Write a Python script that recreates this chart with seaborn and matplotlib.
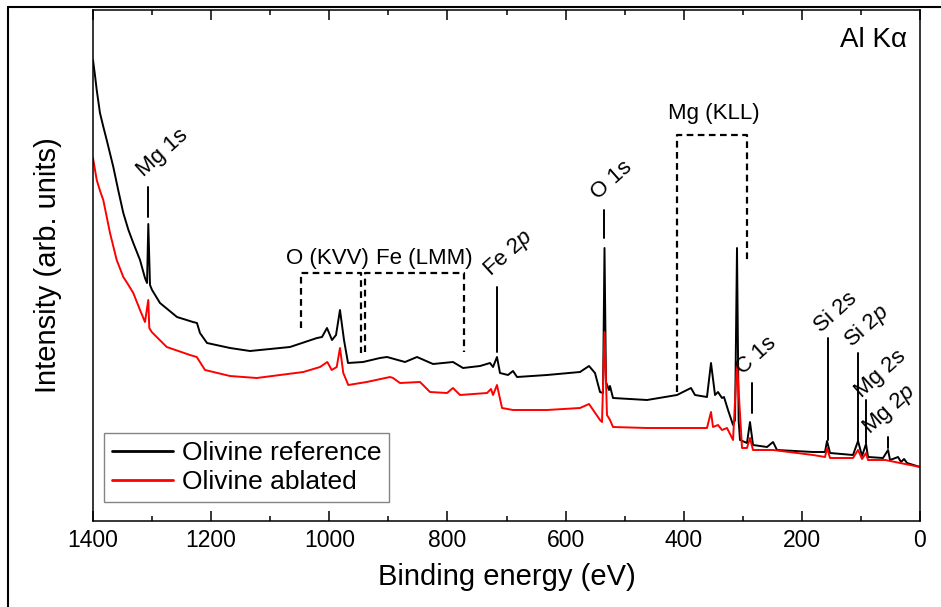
import numpy as np
import pandas as pd
import matplotlib
matplotlib.use("Agg")
import matplotlib.pyplot as plt
from matplotlib.lines import Line2D
from matplotlib.ticker import MultipleLocator
import seaborn as sns

# binding energy (eV) and intensity (arb. units)
ref_energy = [1400, 1396.5, 1393.7, 1388.2, 1382.0, 1376.8, 1365.6, 1357.0, 1348.7, 1340.0,
              1331.8, 1320.4, 1312.0, 1308.5,
              1306.4, 1303.5, 1300.0, 1286.6, 1257.8, 1230.7, 1224.0, 1218.9, 1207.0, 1168.0,
              1134.2, 1066.5, 1020.8, 1012.3, 1003.9, 995.4, 988.6, 981.9, 975.1, 968.3,
              942.9, 914.2, 902.3, 871.8, 851.5, 824.4, 790.6, 773.6, 744.8, 727.9,
              722.8, 716.1, 711.0, 697.5, 689.0, 682.2, 631.4, 575.6, 560.3, 550.2,
              541.7, 536.6, 534.1, 531.6, 526.5, 524.8, 519.7, 462.1, 411.4, 387.7,
              380.9, 360.6, 353.8, 347.0, 342.0, 335.2, 331.8, 325.0, 316.5, 313.1,
              309.8, 307.0, 304.7, 292.9, 287.8, 282.7, 258.9, 248.8, 242.1, 181.1,
              160.8, 157.4, 152.3, 113.4, 104.9, 98.1, 91.4, 88.0, 62.6, 54.1,
              50.7, 37.2, 32.1, 27.0, 21.9, 0]
ref_counts = [461, 445, 431, 408, 393, 381, 354, 330, 308, 291,
              278, 261, 243, 238,
              297, 236, 231, 218, 204, 199, 198, 188, 178, 173,
              170, 174, 183, 184, 193, 181, 186, 211, 181, 158,
              159, 163, 164, 159, 164, 157, 159, 153, 155, 158,
              154, 164, 148, 146, 150, 144, 146, 149, 155, 148,
              129, 128, 273, 139, 131, 135, 123, 121, 126, 133,
              126, 124, 158, 126, 129, 123, 124, 111, 96, 101,
              273, 100, 81, 78, 99, 76, 74, 79, 71, 69,
              69, 80, 68, 66, 80, 65, 77, 64, 63, 71,
              61, 64, 59, 62, 58, 54]

abl_energy = [1400, 1393.7, 1388.0, 1382.6, 1371.2, 1359.9, 1348.7, 1340.0, 1331.8, 1320.4,
              1312.0, 1306.4,
              1304.7, 1300.6, 1275.2, 1235.8, 1224.4, 1210.4, 1168.1, 1122.9, 1043.9, 1015.7,
              1003.3, 995.9, 987.4, 981.9, 976.3, 967.8, 936.7, 897.2, 892.1, 880.3,
              846.4, 829.5, 800.7, 790.6, 778.7, 733.0, 726.2, 722.8, 716.1, 707.6,
              689.0, 631.4, 575.6, 560.3, 541.7, 538.3, 534.1, 529.9, 524.8, 519.7,
              462.1, 406.3, 360.6, 353.8, 350.4, 342.0, 335.2, 326.7, 316.5, 309.8,
              301.3, 292.9, 287.8, 282.7, 248.8, 181.1, 160.8, 157.4, 152.3, 113.4,
              104.9, 98.1, 91.4, 88.0, 58.9, 0]
abl_counts = [363, 341, 330, 321, 288, 261, 244, 236, 228, 211,
              199, 221,
              193, 189, 174, 166, 164, 151, 145, 143, 149, 154,
              159, 151, 154, 173, 148, 136, 139, 144, 143, 138,
              139, 129, 128, 133, 126, 128, 132, 126, 136, 113,
              111, 111, 113, 117, 101, 99, 189, 106, 101, 94,
              93, 93, 93, 109, 94, 96, 91, 93, 81, 158,
              73, 73, 83, 71, 71, 66, 64, 73, 63, 63,
              71, 62, 68, 61, 61, 54]

series_names = ["Olivine reference", "Olivine ablated"]
series_colors = ["black", "#ff0000"]

# peak labels: text, marker line energy, line bottom/top, text anchor (energy, intensity)
peak_labels = ["Mg 1s", "Fe 2$p$", "O 1s", "C 1s", "Si 2s", "Si 2$p$", "Mg 2s", "Mg 2$p$"]
peak_energy = [1306.9, 716.1, 534.1, 284.4, 155.7, 104.9, 91.4, 54.1]
peak_line_lo = [304, 169, 283, 108, 81, 80, 78, 73]
peak_line_hi = [334, 234, 311, 138, 183, 168, 121, 84]
peak_text_e = [1315, 728, 545, 300, 167.5, 117, 98, 85]
peak_text_i = [344, 244, 321, 146, 188, 173, 123, 86]

# Auger regions: label, low/high energy, left/right leg bottom, top
auger_labels = ["O (KVV)", "Fe (LMM)", "Mg (KLL)"]
auger_hi_e = [1048, 939.5, 411]
auger_lo_e = [947, 772, 293]
auger_hi_leg = [193, 169, 129]
auger_lo_leg = [168, 169, 258]
auger_top = [248, 248, 386]
auger_text_e = [1003, 839, 349]
auger_text_i = [252, 252, 397]

sns.set_style("ticks")
plt.rcParams["font.family"] = ["Liberation Sans", "DejaVu Sans"]
plt.rcParams["mathtext.fontset"] = "custom"
plt.rcParams["mathtext.rm"] = "Liberation Sans"
plt.rcParams["mathtext.it"] = "Liberation Sans:italic"
plt.rcParams["text.color"] = "black"
plt.rcParams["axes.labelcolor"] = "black"
plt.rcParams["axes.edgecolor"] = "black"
plt.rcParams["xtick.color"] = "black"
plt.rcParams["ytick.color"] = "black"

df = pd.concat([
    pd.DataFrame({"energy": ref_energy, "counts": ref_counts, "sample": series_names[0]}),
    pd.DataFrame({"energy": abl_energy, "counts": abl_counts, "sample": series_names[1]}),
])

fig = plt.figure(figsize=(9.41, 6.07), dpi=100)
ax = fig.add_axes([93 / 941, 86 / 607, 827 / 941, 511.5 / 607])

sns.lineplot(data=df, x="energy", y="counts", hue="sample", palette=series_colors,
             hue_order=series_names, estimator=None, sort=True, lw=1.4, ax=ax)

ax.set_xlim(1400, 0)
ax.set_ylim(0, 511.5)
ax.xaxis.set_major_locator(MultipleLocator(200))
ax.xaxis.set_minor_locator(MultipleLocator(100))
ax.tick_params(axis="x", which="both", direction="in", top=True, bottom=True, width=1.1)
ax.tick_params(axis="x", which="major", length=7.2, labelsize=16.5, pad=6)
ax.tick_params(axis="x", which="minor", length=3.6)
ax.set_yticks([])
for sp in ax.spines.values():
    sp.set_linewidth(1.1)

ax.set_xlabel("Binding energy (eV)", fontsize=21, labelpad=8)
ax.set_ylabel("Intensity (arb. units)", fontsize=21, labelpad=22)

for lab, e, lo, hi, te, ti in zip(peak_labels, peak_energy, peak_line_lo, peak_line_hi,
                                  peak_text_e, peak_text_i):
    ax.plot([e, e], [lo, hi], color="black", lw=1.4)
    ax.text(te, ti, lab, rotation=42, rotation_mode="anchor", ha="left", va="baseline",
            fontsize=16)

for lab, e1, e2, l1, l2, top, te, ti in zip(auger_labels, auger_hi_e, auger_lo_e, auger_hi_leg,
                                           auger_lo_leg, auger_top, auger_text_e, auger_text_i):
    ax.plot([e1, e1, e2, e2], [l1, top, top, l2], color="black", lw=1.6, ls=(0, (3, 2)))
    ax.text(te, ti, lab, ha="center", va="bottom", fontsize=16)

ax.text(0.984, 0.926, "Al K\u03b1", transform=ax.transAxes, ha="right", va="baseline", fontsize=20)

leg = ax.legend(loc="lower left", bbox_to_anchor=(0.0133, 0.037), borderaxespad=0,
                fontsize=19, handlelength=2.3, handletextpad=0.35, labelspacing=0.2,
                borderpad=0.3, fancybox=False, frameon=True)
leg.get_frame().set_edgecolor("#666666")
leg.get_frame().set_linewidth(1.0)
for h in leg.get_lines():
    h.set_linewidth(2.0)

# outer border of the figure panel
fig.add_artist(Line2D([8 / 941, 8 / 941], [0, 600 / 607], color="black", lw=1.5))
fig.add_artist(Line2D([8 / 941, 1], [600 / 607, 600 / 607], color="black", lw=1.5))

fig.savefig("out.png", dpi=100)
